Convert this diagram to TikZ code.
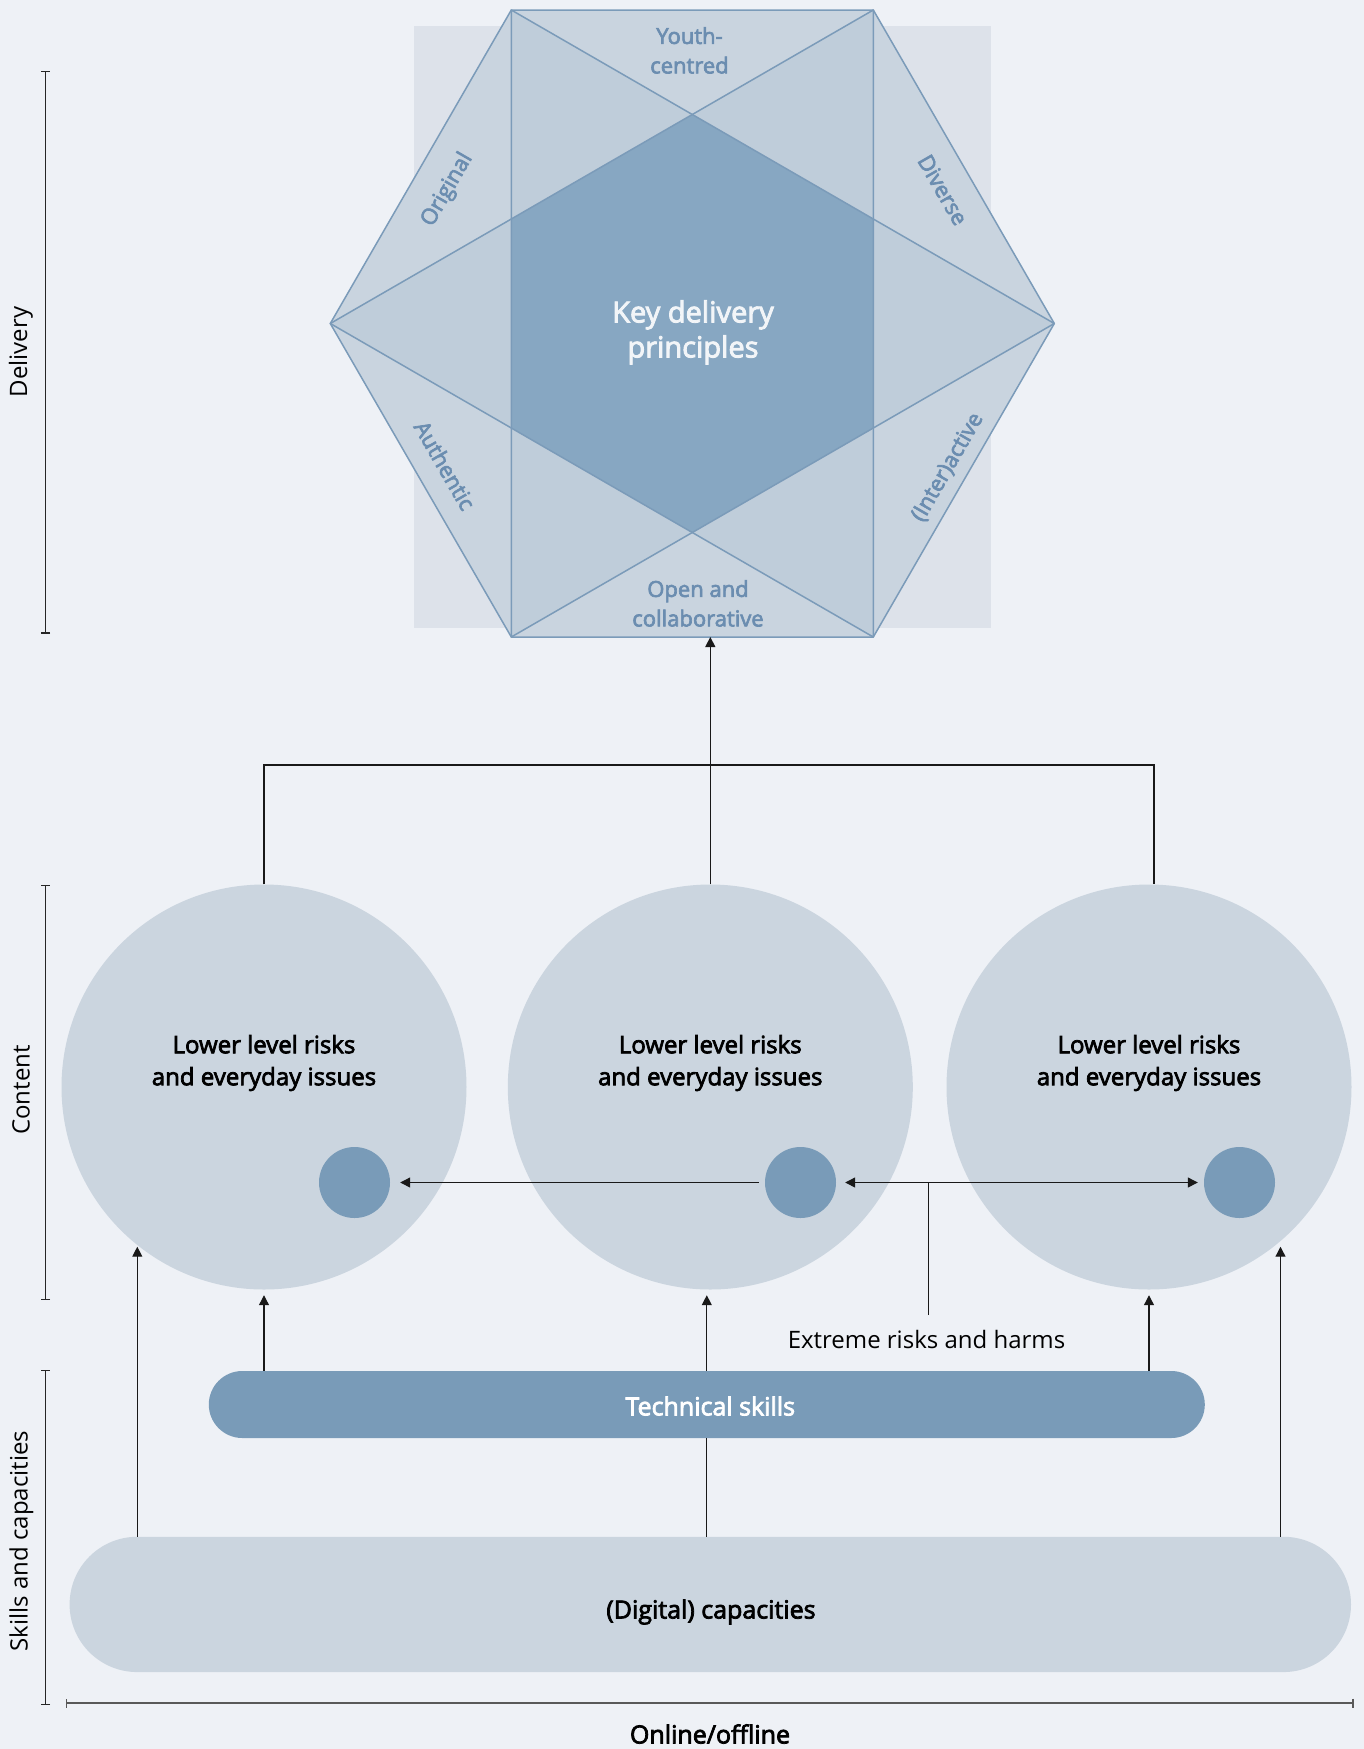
\documentclass[tikz,border=0pt]{standalone}
\usepackage{fontspec}
\setmainfont{Open Sans}
\newfontfamily\medfont{Open Sans}[FakeBold=3]
\usetikzlibrary{arrows.meta,calc}
\definecolor{pagebg}{HTML}{EEF1F6}
\definecolor{rectbg}{HTML}{DDE2EA}
\definecolor{hexlight}{HTML}{C9D4DF}
\definecolor{hexmid}{HTML}{BFCDDA}
\definecolor{hexdark}{HTML}{87A7C2}
\definecolor{hexline}{HTML}{7B9BB9}
\definecolor{hextext}{HTML}{6B8DB0}
\definecolor{bigcirc}{HTML}{CBD5DF}
\definecolor{steel}{HTML}{799BB8}
\definecolor{keytext}{HTML}{F2F5F8}
\begin{document}
\begin{tikzpicture}[x=1pt,y=-1pt,
  conn/.style={draw=black!90, line width=1.2pt},
  arr/.style={conn, -{Triangle[length=10pt,width=10pt]}},
  darr/.style={conn, {Triangle[length=10pt,width=10pt]}-{Triangle[length=10pt,width=10pt]}},
  bigc/.style={circle, fill=bigcirc, minimum size=405pt, inner sep=0pt},
  smallc/.style={circle, fill=steel, minimum size=71pt, inner sep=0pt},
  circtext/.style={align=center, inner sep=0pt, text=black, font=\medfont\fontsize{24}{32}\selectfont},
  hexlabel/.style={align=center, inner sep=0pt, text=hextext, font=\medfont\fontsize{22}{29.5}\selectfont},
  hexedge/.style={draw=hexline, line width=1.5pt, line join=round},
  axis/.style={line width=1.3pt, draw=black!85, {Bar[width=9pt]}-{Bar[width=9pt]}},
  axislabel/.style={rotate=90, inner sep=0pt, font=\fontsize{24}{28}\selectfont},
  barnode/.style={inner sep=0pt},
  bartext/.style={inner sep=0pt, font=\medfont\fontsize{25}{30}\selectfont}
]
\useasboundingbox (0,0) rectangle (1364,1749);
\fill[pagebg] (0,0) rectangle (1364,1749);

% ---------- hexagon ----------
\coordinate (hL)  at (330.3,323.5);
\coordinate (hTL) at (511.3,10);
\coordinate (hTR) at (873.3,10);
\coordinate (hR)  at (1054.3,323.5);
\coordinate (hBR) at (873.3,637);
\coordinate (hBL) at (511.3,637);
\coordinate (hexB) at (710.3,637);

\fill[rectbg] (414,26) rectangle (991,628);
\fill[hexlight] (hL) -- (hTL) -- (hTR) -- (hR) -- (hBR) -- (hBL) -- cycle;
\fill[hexmid] (hL) -- (hTR) -- (hBR) -- cycle;
\fill[hexmid] (hR) -- (hTL) -- (hBL) -- cycle;
\begin{scope}
  \clip (hL) -- (hTR) -- (hBR) -- cycle;
  \fill[hexdark] (hR) -- (hTL) -- (hBL) -- cycle;
\end{scope}
\draw[hexedge] (hL) -- (hTL) -- (hTR) -- (hR) -- (hBR) -- (hBL) -- cycle;
\draw[hexedge] (hL) -- (hTR) -- (hBR) -- cycle;
\draw[hexedge] (hR) -- (hTL) -- (hBL) -- cycle;

\node[align=center, inner sep=0pt, text=keytext, font=\medfont\fontsize{29}{35}\selectfont] (key) at (693,332.4) {Key delivery\\principles};
\node[hexlabel] (lyouth) at (689.5,50.4) {Youth-\\centred};
\node[hexlabel] (lopen) at (698,603.4) {Open and\\collaborative};
\node[hexlabel, rotate=60] (lorig) at (447.4,189.8) {Original};
\node[hexlabel, rotate=-60] (ldiv) at (943,189.8) {Diverse};
\node[hexlabel, rotate=-60] (lauth) at (445,465.3) {Authentic};
\node[hexlabel, rotate=60] (linter) at (947.6,467.3) {(Inter)active};

% ---------- circles ----------
\node[bigc] (c1) at (264,1087) {};
\node[bigc] (c2) at (710.3,1087) {};
\node[bigc] (c3) at (1149,1087) {};
\node[circtext] (t1) at (264,1063) {Lower level risks\\and everyday issues};
\node[circtext] (t2) at (710.3,1063) {Lower level risks\\and everyday issues};
\node[circtext] (t3) at (1149,1063) {Lower level risks\\and everyday issues};
\node[smallc] (s1) at (354.5,1182.5) {};
\node[smallc] (s2) at (800.5,1182.5) {};
\node[smallc] (s3) at (1239.5,1182.5) {};

% connectors to hexagon
\coordinate (jL) at (264,765);
\coordinate (jR) at (1154,765);
\draw[conn] (c1.north) -- (jL) -- (jR) -- (jR |- c3.north);
\draw[arr] (c2.north) -- (hexB);

% extreme risks
\draw[arr, shorten <=6pt, shorten >=10pt] (s2) -- (s1);
\draw[darr, shorten <=9pt, shorten >=6pt] (s2) -- (s3);
\node[inner sep=0pt, font=\fontsize{24}{28}\selectfont] (ext) at (926.5,1339) {Extreme risks and harms};
\coordinate (eTop) at (928.5,1182.5);
\coordinate (eBot) at (928.5,1315);
\draw[conn] (eBot) -- (eTop);

% ---------- bars ----------
\node[barnode, fill=bigcirc, rounded corners=67.6pt, minimum width=1281.4pt, minimum height=135.3pt] (dig) at (710.3,1604.4) {};
\node[bartext, text=black] (digt) at (711,1612) {(Digital) capacities};
\node[barnode, fill=steel, rounded corners=33.5pt, minimum width=996pt, minimum height=67pt] (tech) at (706.8,1404.5) {};
\node[bartext, text=white] (techt) at (710.3,1406) {Technical skills};

\coordinate (aL) at (137.3,1246.7);
\coordinate (aR) at (1280.5,1246.7);
\draw[arr] (aL |- dig.north) -- (aL);
\draw[arr] (aR |- dig.north) -- (aR);
\draw[conn] (tech.center |- dig.north) -- (tech.south);
\draw[arr, shorten >=5.5pt] (tech.north) -- (tech.center |- c2.south);
\draw[arr, shorten >=5.5pt] (c1 |- tech.north) -- (c1.south);
\draw[arr, shorten >=5.5pt] (c3 |- tech.north) -- (c3.south);

% ---------- axes ----------
\draw[axis] (45.7,71) -- (45.7,633.6);
\draw[axis] (45.7,885) -- (45.7,1300);
\draw[axis] (45.7,1370) -- (45.7,1705);
\draw[axis, draw=black!65, line width=1.6pt] (65.5,1703) -- (1353.5,1703);
\node[axislabel] (ldel) at (21,352) {Delivery};
\node[axislabel] (lcon) at (21,1090) {Content};
\node[axislabel] (lski) at (21.5,1541) {Skills and capacities};
\node[bartext, text=black] (lonl) at (710,1734) {Online/offline};
\end{tikzpicture}
\end{document}
